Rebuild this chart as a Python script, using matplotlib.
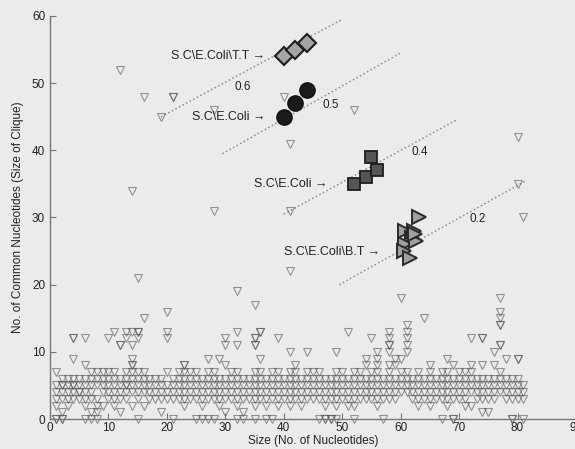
import matplotlib
matplotlib.use("Agg")
import matplotlib.pyplot as plt

plt.rcParams['font.family'] = ['Liberation Sans', 'DejaVu Sans']

# ---------------- data ----------------
# background cliques (size, common nucleotides): dense band, one list per size x = 1..81
band_cols = [
    [0, 0, 2, 3, 4, 5, 7], [0, 0, 1, 3, 4, 5, 5, 6], [2, 3, 4, 5, 6], [3, 4, 5, 5, 6],
    [3, 4, 4, 5, 6], [0, 2, 3, 4, 5, 6], [0, 1, 3, 4, 5, 6, 7], [0, 1, 2, 3, 5, 6, 7],
    [2, 4, 5, 6, 7], [3, 4, 5, 6, 7], [2, 3, 4, 5, 6, 7], [1, 3, 4, 5, 6],
    [3, 4, 5, 5, 6, 7], [2, 4, 5, 6, 7], [0, 3, 4, 5, 6, 7], [2, 4, 5, 6, 7],
    [3, 4, 5, 6], [3, 4, 5, 6], [1, 3, 4, 5, 6], [3, 4, 5, 7],
    [0, 3, 4, 5, 6], [3, 4, 5, 6, 7], [2, 3, 4, 5, 6, 7], [3, 4, 5, 6, 7],
    [0, 3, 4, 5, 6, 7], [0, 2, 3, 4, 5, 6], [0, 3, 4, 5, 6, 7], [0, 3, 4, 5, 6, 7],
    [2, 3, 4, 5, 6], [1, 3, 4, 5, 6], [3, 4, 5, 6, 7], [0, 2, 3, 4, 5, 6, 7],
    [0, 1, 3, 4, 5, 6], [3, 4, 5, 6], [0, 2, 3, 4, 5, 6, 7], [3, 4, 5, 6, 7],
    [0, 2, 3, 4, 5, 6], [0, 3, 4, 5, 6, 7], [2, 3, 4, 5, 6, 7], [3, 4, 5, 6],
    [2, 3, 4, 5, 6, 7], [3, 4, 5, 6, 7], [2, 3, 4, 5, 6], [3, 4, 5, 6, 7],
    [3, 4, 5, 6, 7], [0, 3, 4, 5, 6, 7], [0, 0, 2, 3, 4, 5, 6], [0, 0, 3, 4, 5, 6],
    [0, 2, 3, 4, 5, 6, 7], [3, 4, 5, 6, 7], [2, 3, 4, 5, 6], [0, 2, 3, 4, 5, 6, 7],
    [3, 4, 5, 6, 7], [3, 4, 5, 6], [3, 4, 5, 6, 7], [2, 3, 4, 5, 6, 7],
    [0, 3, 4, 5, 6], [3, 4, 5, 6, 7], [3, 4, 5, 6], [4, 5, 6, 7],
    [4, 5, 6, 7], [3, 4, 5, 6], [2, 3, 4, 5, 6, 7], [3, 4, 5, 6],
    [2, 3, 4, 5, 6, 7], [3, 4, 5, 6], [0, 3, 4, 5, 6, 7], [2, 3, 4, 5, 6, 7],
    [0, 0, 3, 4, 5, 6], [3, 4, 5, 6, 7], [2, 3, 4, 5, 6, 7], [2, 4, 5, 6, 7],
    [3, 4, 5, 6], [1, 3, 4, 5, 6], [1, 3, 4, 5, 6], [3, 4, 5, 6],
    [4, 5, 6, 7], [3, 4, 5, 6], [0, 0, 3, 4, 5, 6], [3, 4, 5, 6], [0, 3, 4, 5],
]

# scattered background cliques above the band
mid_x = [4, 4, 6, 10, 13, 15, 20, 30, 35, 35, 39, 55, 58, 61, 72, 74, 74,
         11, 13, 14, 15, 15, 20, 32, 36, 36, 51, 58, 61,
         12, 12, 14, 30, 32, 35, 35, 58, 58, 61, 77, 77,
         41, 44, 49, 56, 58, 61, 76,
         4, 14, 27, 29, 36, 54, 56, 59, 60, 68, 78, 80, 80,
         6, 14, 14, 23, 23, 30, 42, 54, 56, 58, 59, 65, 69, 72, 74, 76]
mid_y = [12, 12, 12, 12, 12, 12, 12, 12, 12, 12, 12, 12, 12, 12, 12, 12, 12,
         13, 13, 13, 13, 13, 13, 13, 13, 13, 13, 13, 13,
         11, 11, 11, 11, 11, 11, 11, 11, 11, 11, 11, 11,
         10, 10, 10, 10, 10, 10, 10,
         9, 9, 9, 9, 9, 9, 9, 9, 9, 9, 9, 9, 9,
         8, 8, 8, 8, 8, 8, 8, 8, 8, 8, 8, 8, 8, 8, 8, 8]

# outlying background cliques
out_x = [12, 16, 21, 21, 19, 28, 40, 41, 52, 80, 14, 28, 41, 80, 81, 15, 41,
         32, 35, 60, 77, 20, 16, 64, 77, 77, 77, 77, 61]
out_y = [52, 48, 48, 48, 45, 46, 48, 41, 46, 42, 34, 31, 31, 35, 30, 21, 22,
         19, 17, 18, 18, 16, 15, 15, 16, 15, 14, 14, 14]

# highlighted cliques
tt_x = [40, 42, 44]
tt_y = [54, 55, 56]
ec5_x = [40, 42, 44]
ec5_y = [45, 47, 49]
ec4_x = [52, 54, 56, 55]
ec4_y = [35, 36, 37, 39]
bt_x = [60.8, 63.2, 62, 62.3, 60.8, 62.6, 60.6, 61.6, 62.4]
bt_y = [28, 30, 27, 28, 26, 26.5, 25, 24, 27.5]

# ratio guide lines: (x0, y0, x1, y1), label and label position
guide_lines = [(19, 45, 50, 59.5), (29.5, 39.5, 60, 54.5),
               (40, 30.5, 69.5, 44.5), (49.5, 20, 81.5, 35.5)]
guide_labels = ["0.6", "0.5", "0.4", "0.2"]
guide_label_pos = [(31.5, 49.5), (46.6, 46.7), (61.8, 39.7), (71.8, 29.8)]

clique_labels = ["S.C\\E.Coli\\T.T \u2192", "S.C\\E.Coli \u2192",
                 "S.C\\E.Coli \u2192", "S.C\\E.Coli\\B.T \u2192"]
clique_label_pos = [(36.8, 54), (36.8, 45), (47.5, 35), (56.5, 24.8)]

xticks = [0, 10, 20, 30, 40, 50, 60, 70, 80, 90]
yticks = [0, 10, 20, 30, 40, 50, 60]

# ---------------- build background arrays ----------------
bg_x, bg_y = [], []
for i, col in enumerate(band_cols):
    for v in col:
        bg_x.append(i + 1)
        bg_y.append(v)
bg_x += mid_x + out_x
bg_y += mid_y + out_y

# ---------------- figure ----------------
bgc = '#ebebeb'
fig = plt.figure(figsize=(5.75, 4.49), dpi=100, facecolor=bgc)
ax = fig.add_axes([50 / 575, 30 / 449, 526 / 575, 403 / 449], facecolor=bgc)

ax.plot(bg_x, bg_y, linestyle='none', marker='v', markersize=6,
        markerfacecolor='none', markeredgecolor='#555555', markeredgewidth=0.8,
        alpha=0.6, clip_on=False, zorder=2)

for (x0, y0, x1, y1) in guide_lines:
    ax.plot([x0, x1], [y0, y1], linestyle=':', color='#8a8a8a', linewidth=1.1, zorder=1)
for lab, (lx, ly) in zip(guide_labels, guide_label_pos):
    ax.text(lx, ly, lab, fontsize=8.5, color='#222222', ha='left', va='center')

ax.plot(tt_x, tt_y, linestyle='none', marker='D', markersize=9,
        markerfacecolor='#a5a5a5', markeredgecolor='#1e1e1e', markeredgewidth=1.5, zorder=4)
ax.plot(ec5_x, ec5_y, linestyle='none', marker='o', markersize=11,
        markerfacecolor='#1a1a1a', markeredgecolor='#111111', markeredgewidth=1.0, zorder=4)
ax.plot(ec4_x, ec4_y, linestyle='none', marker='s', markersize=8.5,
        markerfacecolor='#555555', markeredgecolor='#1e1e1e', markeredgewidth=1.3, zorder=4)
ax.plot(bt_x, bt_y, linestyle='none', marker='>', markersize=10,
        markerfacecolor='#a0a0a0', markeredgecolor='#2a2a2a', markeredgewidth=1.4, zorder=4)

for lab, (lx, ly) in zip(clique_labels, clique_label_pos):
    ax.text(lx, ly, lab, fontsize=9, color='#222222', ha='right', va='center')

ax.set_xlim(0, 90)
ax.set_ylim(0, 60)
ax.set_xticks(xticks)
ax.set_yticks(yticks)
ax.tick_params(direction='in', length=4, width=0.8, colors='#777777',
               labelcolor='#222222', labelsize=8.5)
ax.tick_params(axis='x', pad=2)
for s in ['top', 'right']:
    ax.spines[s].set_visible(False)
for s in ['left', 'bottom']:
    ax.spines[s].set_color('#777777')
    ax.spines[s].set_linewidth(1.0)

ax.set_xlabel('Size (No. of Nucleotides)', fontsize=8.5, color='#222222', labelpad=1)
ax.set_ylabel('No. of Common Nucleotides (Size of Clique)', fontsize=8.5,
              color='#222222', labelpad=6)

fig.savefig('out.png', dpi=100, facecolor=bgc)
